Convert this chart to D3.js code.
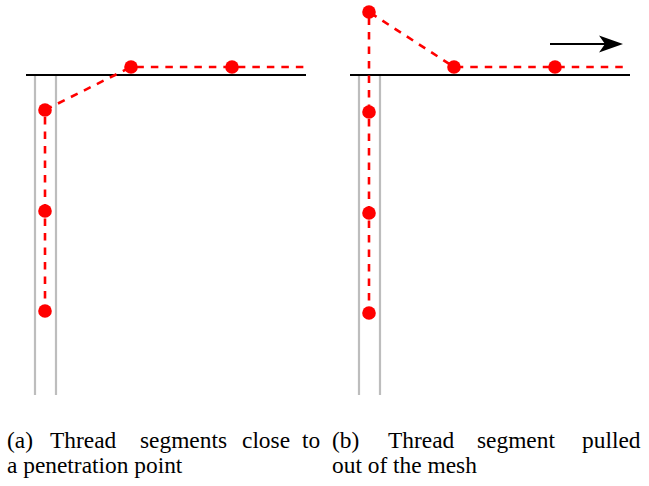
<!DOCTYPE html>
<html><head><meta charset="utf-8">
<script src="https://cdn.jsdelivr.net/npm/d3@7"></script>
<style>html,body{margin:0;padding:0;background:#fff}svg{display:block}</style>
</head><body>
<svg id="c" width="649" height="486"></svg>
<script>
// Data (units: mesh units; y=0 is the mesh surface, positive is above it)
const panelA_nodes = [[0.10,-2.36],[0.10,-1.36],[0.10,-0.35],[0.96,0.08],[1.97,0.08],[2.69,0.08]];
const panelA_markers = [0,1,2,3,4];
const panelB_nodes = [[0.10,-2.38],[0.10,-1.38],[0.10,-0.37],[0.10,0.63],[0.95,0.08],[1.96,0.08],[2.69,0.08]];
const panelB_markers = [0,1,2,3,4,5];
const surfaceExtent = [-0.09, 2.71];
const wallX = [0, 0.21];
const wallDepth = [0, -3.2];
const pullArrow = [[1.91,0.31],[2.64,0.31]];
// caption words (justified lines are set word by word)
const captionA1 = ["(a)", "Thread", "segments", "close", "to"];
const captionA2 = "a penetration point";
const captionB1 = ["(b)", "Thread", "segment", "pulled"];
const captionB2 = "out of the mesh";

const svg = d3.select("#c");
const y = d3.scaleLinear().domain([0.75, -3.2]).range([0, 395]);
const xA = d3.scaleLinear().domain([0, 1]).range([35, 135]);
const xB = d3.scaleLinear().domain([0, 1]).range([359, 459]);

function panel(x, nodes, markers, arrow) {
  const g = svg.append("g");
  wallX.forEach(w => {
    g.append("line").attr("x1", x(w)).attr("x2", x(w))
      .attr("y1", y(wallDepth[0])).attr("y2", y(wallDepth[1]))
      .attr("stroke", "#bdbdbd").attr("stroke-width", 2.2);
  });
  g.append("line").attr("x1", x(surfaceExtent[0])).attr("x2", x(surfaceExtent[1]))
    .attr("y1", y(0)).attr("y2", y(0)).attr("stroke", "#000").attr("stroke-width", 2);
  const line = d3.line().x(d => x(d[0])).y(d => y(d[1]));
  g.append("path").attr("d", line(nodes)).attr("fill","none")
    .attr("stroke","#ff0000").attr("stroke-width",2.6).attr("stroke-dasharray","7.5,7")
    .attr("stroke-dashoffset", 2);
  g.selectAll("circle.n").data(markers.map(i => nodes[i])).enter().append("circle")
    .attr("cx", d => x(d[0])).attr("cy", d => y(d[1])).attr("r", 6.8).attr("fill","#ff0000");
  if (arrow) {
    g.append("line").attr("x1", x(arrow[0][0])).attr("x2", x(arrow[1][0]) - 10)
      .attr("y1", y(arrow[0][1])).attr("y2", y(arrow[1][1]))
      .attr("stroke","#000").attr("stroke-width",2.2);
    g.append("path").attr("d", `M${x(arrow[1][0])},${y(arrow[1][1])} l-24,-8.5 l6,8.5 l-6,8.5 Z`)
      .attr("fill","#000");
  }
}
panel(xA, panelA_nodes, panelA_markers, null);
panel(xB, panelB_nodes, panelB_markers, pullArrow);

function word(x0, yy, t) {
  svg.append("g").attr("transform", `translate(${x0},${yy}) scale(1.04,1)`)
    .append("text").attr("x", 0).attr("y", 0)
    .attr("font-family", "Liberation Serif").attr("font-size", 22.5).attr("fill", "#000").text(t);
}
const posA1 = [7, 50, 140, 242, 302];
const posB1 = [332, 388, 477, 582];
captionA1.forEach((w,i) => word(posA1[i], 448, w));
word(7, 473, captionA2);
captionB1.forEach((w,i) => word(posB1[i], 448, w));
word(332, 473, captionB2);
</script>
</body></html>
